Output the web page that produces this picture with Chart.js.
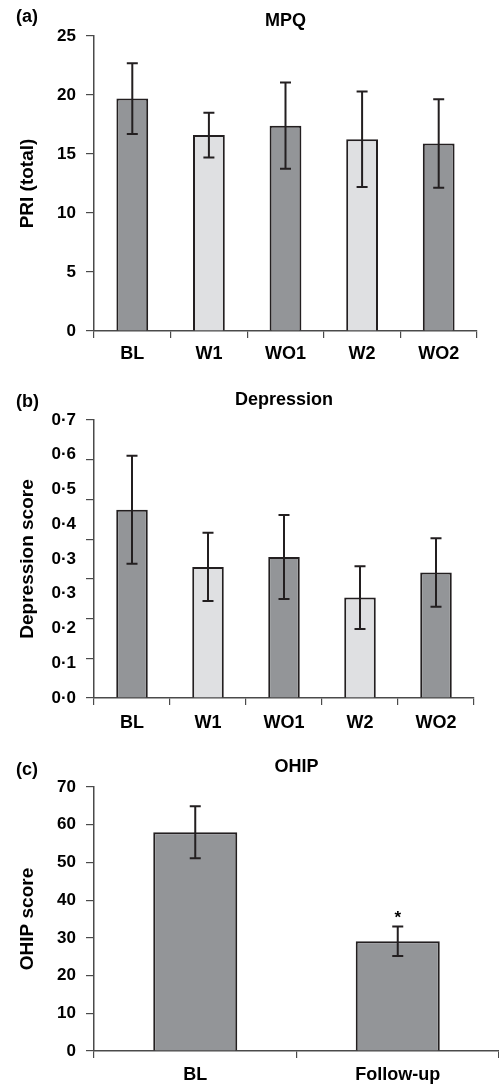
<!DOCTYPE html>
<html lang="en">
<head>
    <meta charset="UTF-8">
    <title>MPQ, Depression and OHIP scores</title>
    <style>
        body { margin: 0; background: #fff; }
        #wrap { position: relative; width: 499px; height: 1085px; }
        canvas { position: absolute; left: 0; }
    </style>
</head>
<body>

    <div id="wrap">
        <canvas id="mpqChart" width="499" height="366" style="top:0px"></canvas>
        <canvas id="depChart" width="499" height="370" style="top:366px"></canvas>
        <canvas id="ohipChart" width="499" height="349" style="top:736px"></canvas>
    </div>

    <script src="https://cdn.jsdelivr.net/npm/chart.js"></script>

    <script>
        // Data
        const phases = ['BL', 'W1', 'WO1', 'W2', 'WO2'];

        const mpqMeans = [19.7, 16.6, 17.4, 16.25, 15.9];
        const mpqErrors = [3.0, 1.9, 3.65, 4.05, 3.75];

        const depMeans = [0.474, 0.33, 0.355, 0.253, 0.316];
        const depErrors = [0.136, 0.086, 0.106, 0.079, 0.086];
        // the printed labels of the depression axis (as they appear)
        const depTickLabels = ['0·0', '0·1', '0·2', '0·3', '0·3', '0·4', '0·5', '0·6', '0·7'];

        const ohipGroups = ['BL', 'Follow-up'];
        const ohipMeans = [58.0, 29.1];
        const ohipErrors = [6.9, 3.9];
        const ohipMarks = ['', '*'];

        // Styles
        const dark = '#939598';
        const light = '#dfe0e2';
        const ink = '#231f20';
        const axisColor = '#4a4a4a';
        const phaseColors = [dark, light, dark, light, dark];

        Chart.defaults.font.family = '"Liberation Sans", Arial, Helvetica, sans-serif';
        Chart.defaults.color = '#000';

        // error bars + optional marks above them
        const errorBars = {
            id: 'errorBars',
            afterDatasetsDraw(chart, args, opts) {
                const ctx = chart.ctx;
                const y = chart.scales.y;
                const ds = chart.data.datasets[0];
                const meta = chart.getDatasetMeta(0);
                ctx.save();
                ctx.strokeStyle = ink;
                ctx.lineWidth = 2;
                meta.data.forEach((bar, i) => {
                    const top = y.getPixelForValue(ds.data[i] + opts.errors[i]);
                    const bot = y.getPixelForValue(ds.data[i] - opts.errors[i]);
                    ctx.beginPath();
                    ctx.moveTo(bar.x, top);
                    ctx.lineTo(bar.x, bot);
                    ctx.moveTo(bar.x - 5.5, top);
                    ctx.lineTo(bar.x + 5.5, top);
                    ctx.moveTo(bar.x - 5.5, bot);
                    ctx.lineTo(bar.x + 5.5, bot);
                    ctx.stroke();
                    if (opts.marks && opts.marks[i]) {
                        ctx.fillStyle = '#000';
                        ctx.font = 'bold 17px "Liberation Sans", Arial, sans-serif';
                        ctx.textAlign = 'center';
                        ctx.textBaseline = 'alphabetic';
                        ctx.fillText(opts.marks[i], bar.x, top - 4);
                    }
                });
                ctx.restore();
            }
        };

        // panel letter and title
        const panelText = {
            id: 'panelText',
            afterDraw(chart, args, opts) {
                const ctx = chart.ctx;
                const area = chart.chartArea;
                ctx.save();
                ctx.fillStyle = '#000';
                ctx.font = 'bold 18px "Liberation Sans", Arial, sans-serif';
                ctx.textBaseline = 'middle';
                ctx.textAlign = 'left';
                ctx.fillText(opts.letter, 16, opts.letterY);
                ctx.textAlign = 'center';
                ctx.fillText(opts.title, (area.left + area.right) / 2, opts.titleY);
                ctx.restore();
            }
        };

        function yTitle(text) {
            return {
                display: true,
                text: text,
                color: '#000',
                font: { size: 19, weight: 'bold' },
                padding: { top: 16, bottom: 0 }
            };
        }

        function xScale(h, pad) {
            return {
                afterFit: s => { s.height = h; },
                grid: { drawOnChartArea: false, offset: true, tickLength: 7, color: axisColor, lineWidth: 1.2 },
                border: { color: axisColor, width: 1.5 },
                ticks: { color: '#000', font: { size: 18, weight: 'bold' }, padding: pad, maxRotation: 0, autoSkip: false }
            };
        }

        function barData(labels, values, colors) {
            return {
                labels: labels,
                datasets: [{
                    data: values,
                    backgroundColor: colors,
                    borderColor: ink,
                    borderWidth: 2,
                    categoryPercentage: 1,
                    barPercentage: 0.415
                }]
            };
        }

        const common = {
            responsive: false,
            animation: false,
            events: []
        };

        // (a) MPQ
        new Chart(document.getElementById('mpqChart'), {
            type: 'bar',
            data: barData(phases, mpqMeans, phaseColors),
            options: {
                ...common,
                layout: { padding: { top: 36, right: 22, left: 0, bottom: 0 } },
                scales: {
                    x: xScale(35, 5),
                    y: {
                        min: 0, max: 25,
                        afterFit: s => { s.width = 94; },
                        ticks: { stepSize: 5, color: '#000', font: { size: 17, weight: 'bold' }, padding: 10 },
                        grid: { drawOnChartArea: false, tickLength: 8, color: axisColor, lineWidth: 1.2 },
                        border: { color: axisColor, width: 1.5 },
                        title: yTitle('PRI (total)')
                    }
                },
                plugins: {
                    legend: { display: false },
                    tooltip: { enabled: false },
                    errorBars: { errors: mpqErrors },
                    panelText: { letter: '(a)', title: 'MPQ', letterY: 17.5, titleY: 20.8 }
                }
            },
            plugins: [errorBars, panelText]
        });

        // (b) Depression
        new Chart(document.getElementById('depChart'), {
            type: 'bar',
            data: barData(phases, depMeans, phaseColors),
            options: {
                ...common,
                layout: { padding: { top: 54, right: 25, left: 0, bottom: 0 } },
                scales: {
                    x: xScale(38, 7),
                    y: {
                        min: 0, max: 0.7,
                        weight: 0,
                        afterFit: s => { s.width = 8; },
                        ticks: { display: false, stepSize: 0.1 },
                        grid: { drawOnChartArea: false, tickLength: 8, color: axisColor, lineWidth: 1.2 },
                        border: { color: axisColor, width: 1.5 }
                    },
                    yl: {
                        type: 'linear',
                        position: 'left',
                        min: 0, max: 8,
                        weight: 1,
                        afterFit: s => { s.width = 86; },
                        ticks: {
                            stepSize: 1,
                            color: '#000',
                            font: { size: 17, weight: 'bold' },
                            padding: 10,
                            callback: (v, i) => depTickLabels[i]
                        },
                        grid: { display: false, drawTicks: false },
                        border: { display: false },
                        title: yTitle('Depression score')
                    }
                },
                plugins: {
                    legend: { display: false },
                    tooltip: { enabled: false },
                    errorBars: { errors: depErrors },
                    panelText: { letter: '(b)', title: 'Depression', letterY: 36.2, titleY: 34.3 }
                }
            },
            plugins: [errorBars, panelText]
        });

        // (c) OHIP
        new Chart(document.getElementById('ohipChart'), {
            type: 'bar',
            data: barData(ohipGroups, ohipMeans, [dark, dark]),
            options: {
                ...common,
                layout: { padding: { top: 51, right: 0, left: 0, bottom: 0 } },
                scales: {
                    x: xScale(34, 6),
                    y: {
                        min: 0, max: 70,
                        afterFit: s => { s.width = 94; },
                        ticks: { stepSize: 10, color: '#000', font: { size: 17, weight: 'bold' }, padding: 10 },
                        grid: { drawOnChartArea: false, tickLength: 8, color: axisColor, lineWidth: 1.2 },
                        border: { color: axisColor, width: 1.5 },
                        title: yTitle('OHIP score')
                    }
                },
                plugins: {
                    legend: { display: false },
                    tooltip: { enabled: false },
                    errorBars: { errors: ohipErrors, marks: ohipMarks },
                    panelText: { letter: '(c)', title: 'OHIP', letterY: 34.4, titleY: 31.5 }
                }
            },
            plugins: [errorBars, panelText]
        });
    </script>

</body>
</html>
